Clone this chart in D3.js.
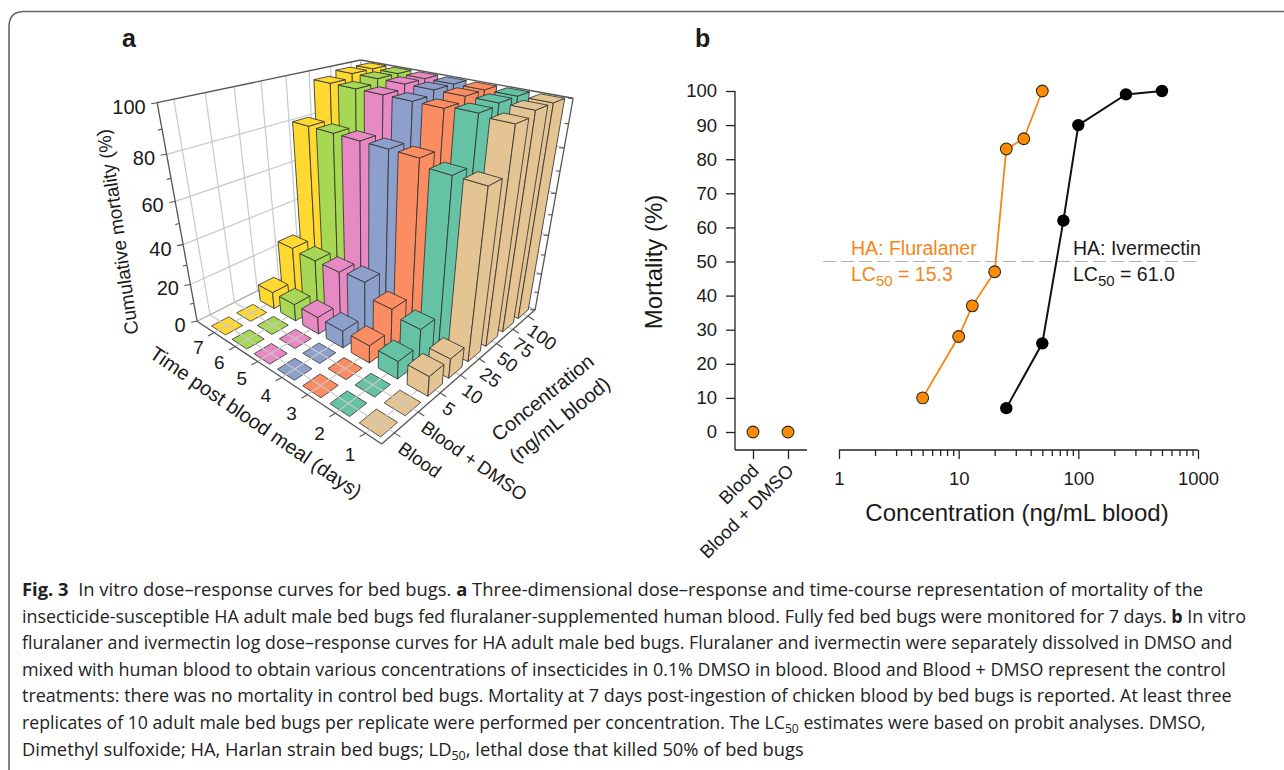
<!DOCTYPE html>
<html><head><meta charset="utf-8">
<script src="https://cdn.jsdelivr.net/npm/d3@7"></script>
<style>html,body{margin:0;padding:0;background:#fff}svg{display:block}text{font-family:"Liberation Sans",Arial,sans-serif;fill:#1a1a1a}</style>
</head><body><svg id="c" width="1284" height="770"></svg>
<script>
// ---------- data, panel a ----------
const days = [1,2,3,4,5,6,7];
const concLabels = ["Blood","Blood + DMSO","5","10","25","50","75","100"];
const mortalityDay1 = [0,0,10,10,79,98,100,100];
const mortalityDay2 = [0,0,9,17,79,99,100,100];
const mortalityDay3 = [0,0,9,20,82,98,100,100];
const mortalityDay4 = [0,0,9,27,82,98,100,100];
const mortalityDay5 = [0,0,9,26,82,98,100,100];
const mortalityDay6 = [0,0,9,26,82,98,100,100];
const mortalityDay7 = [0,0,9,27,82,98,100,100];
const mortalityByDay = [mortalityDay1,mortalityDay2,mortalityDay3,mortalityDay4,mortalityDay5,mortalityDay6,mortalityDay7];
const dayColors = ["#e5c494","#66c2a5","#fc8d62","#8da0cb","#e78ac3","#a6d854","#ffd92f"];
const zTicks = [0,20,40,60,80,100];
const zMinorTicks = [10,30,50,70,90];
// ---------- data, panel b ----------
const fluralanerDose = [5,10,13,20,25,35,50];
const fluralanerMortality = [10,28,37,47,83,86,100];
const ivermectinDose = [25,50,75,100,250,500];
const ivermectinMortality = [7,26,62,90,99,100];
const controlLabels = ["Blood","Blood + DMSO"];
const controlMortality = [0,0];
const yTicks = [0,10,20,30,40,50,60,70,80,90,100];
const xTicks = [1,10,100,1000];
const xMinorTicks = [2,3,4,5,6,7,8,9,20,30,40,50,60,70,80,90,200,300,400,500,600,700,800,900];
const captionLines = [
 [["Fig. 3","b"],["  In vitro dose–response curves for bed bugs. "],["a","b"],[" Three-dimensional dose–response and time-course representation of mortality of the"]],
 [["insecticide-susceptible HA adult male bed bugs fed fluralaner-supplemented human blood. Fully fed bed bugs were monitored for 7 days. "],["b","b"],[" In vitro"]],
 [["fluralaner and ivermectin log dose–response curves for HA adult male bed bugs. Fluralaner and ivermectin were separately dissolved in DMSO and"]],
 [["mixed with human blood to obtain various concentrations of insecticides in 0.1% DMSO in blood. Blood and Blood + DMSO represent the control"]],
 [["treatments: there was no mortality in control bed bugs. Mortality at 7 days post-ingestion of chicken blood by bed bugs is reported. At least three"]],
 [["replicates of 10 adult male bed bugs per replicate were performed per concentration. The LC"],["50","s"],[" estimates were based on probit analyses. DMSO,"]],
 [["Dimethyl sulfoxide; HA, Harlan strain bed bugs; LD"],["50","s"],[", lethal dose that killed 50% of bed bugs"]]
];
const captionEnds = [1204,1247,1233,1226,1232,1206,804];

const svg = d3.select("#c");
svg.append("path").attr("d","M1284,11.5H24Q9,11.5 9,27V770").attr("fill","none").attr("stroke","#666").attr("stroke-width",1.6);

// ---------- camera: solve a projective map from six box corners ----------
const cameraFit = [
 [0,0,0,382,444],[1,0,0,197,321],[0,1,0,535,310],
 [1,0,1,157,103],[0,1,1,573,98],[1,1,1,361,60]];
function solveCamera(fit){
  const rows=[],rhs=[];
  fit.forEach(([u,v,w,X,Y])=>{
    rows.push([1,u,v,w,0,0,0,0,-X*u,-X*v,-X*w]);rhs.push(X);
    rows.push([0,0,0,0,1,u,v,w,-Y*u,-Y*v,-Y*w]);rhs.push(Y);
  });
  const n=11,A=d3.range(n).map(i=>d3.range(n+1).map(j=>{
    let s=0;rows.forEach((r,k)=>{s+=r[i]*(j<n?r[j]:rhs[k]);});return s;}));
  for(let i=0;i<n;i++){
    let p=i;for(let k=i+1;k<n;k++)if(Math.abs(A[k][i])>Math.abs(A[p][i]))p=k;
    [A[i],A[p]]=[A[p],A[i]];
    for(let k=0;k<n;k++)if(k!==i){const f=A[k][i]/A[i][i];for(let j=i;j<=n;j++)A[k][j]-=f*A[i][j];}
  }
  return A.map((r,i)=>r[n]/r[i]);
}
const M=solveCamera(cameraFit);
const proj=(u,v,w)=>{const d=1+M[8]*u+M[9]*v+M[10]*w;
  return [(M[0]+M[1]*u+M[2]*v+M[3]*w)/d,(M[4]+M[5]*u+M[6]*v+M[7]*w)/d];};
const uS=d3.scaleBand().domain(days).range([0,0.95]);
const vS=d3.scaleBand().domain(concLabels).range([0,1]);
const wS=d3.scaleLinear().domain([0,100]).range([0,1]);
const uC=d=>uS(d)+uS.bandwidth()/2, vC=c=>vS(c)+vS.bandwidth()/2;
const line3=d3.line();
const A=svg.append("g");
const seg=(g,a,b,col,sw)=>g.append("path").attr("d",line3([proj(...a),proj(...b)])).attr("stroke",col).attr("stroke-width",sw).attr("fill","none");
const GRID="#c9c9c9",EDGE="#555";

zTicks.slice(1,5).forEach(t=>{const w=wS(t);
  seg(A,[1,0,w],[1,1,w],GRID,1.2);seg(A,[1,1,w],[0,1,w],GRID,1.2);});
concLabels.forEach(c=>seg(A,[1,vC(c),0],[1,vC(c),1],GRID,1.2));
days.forEach(d=>seg(A,[uC(d),1,0],[uC(d),1,1],GRID,1.2));
seg(A,[1,1,0],[1,1,1],"#aaa",1.2);
seg(A,[1,0,0],[1,1,0],"#aaa",1.2);seg(A,[0,1,0],[1,1,0],"#aaa",1.2);

const FILL=0.68;
const barsAll=[];
days.forEach((d,i)=>concLabels.forEach((c,j)=>barsAll.push({d,c,val:mortalityByDay[i][j],col:dayColors[i]})));
const uw=uS.bandwidth()*FILL, vw=vS.bandwidth()*FILL;
const poly=pts=>line3(pts.map(p=>proj(...p)))+"Z";
const flat=barsAll.filter(b=>b.val===0), tall=barsAll.filter(b=>b.val>0);
const stroke="#333";
flat.forEach(b=>{const u0=uC(b.d)-uw/2,v0=vC(b.c)-vw/2;
  A.append("path").attr("d",poly([[u0,v0,0],[u0+uw,v0,0],[u0+uw,v0+vw,0],[u0,v0+vw,0]])).attr("fill",b.col).attr("stroke",stroke).attr("stroke-width",.8);});
days.forEach(d=>seg(A,[uC(d),0,0],[uC(d),1,0],GRID,1.2));
concLabels.forEach(c=>seg(A,[0,vC(c),0],[1,vC(c),0],GRID,1.2));
seg(A,[0,0,0],[1,0,0],EDGE,1.3);seg(A,[0,0,0],[0,1,0],EDGE,1.3);
seg(A,[1,0,0],[1,0,1],EDGE,1.3);seg(A,[0,1,0],[0,1,1],EDGE,1.3);
seg(A,[1,0,1],[1,1,1],EDGE,1.3);seg(A,[1,1,1],[0,1,1],EDGE,1.3);

tall.sort((a,b)=>d3.descending(uC(a.d),uC(b.d))||d3.descending(vC(a.c),vC(b.c)));
tall.forEach(b=>{const u0=uC(b.d)-uw/2,v0=vC(b.c)-vw/2,w=wS(b.val),u1=u0+uw,v1=v0+vw;
  [[[u0,v0,0],[u1,v0,0],[u1,v0,w],[u0,v0,w]],
   [[u0,v0,0],[u0,v1,0],[u0,v1,w],[u0,v0,w]],
   [[u0,v0,w],[u1,v0,w],[u1,v1,w],[u0,v1,w]]].forEach(f=>
    A.append("path").attr("d",poly(f)).attr("fill",b.col).attr("stroke",stroke).attr("stroke-width",.85).attr("stroke-linejoin","round"));
});

const tickTo=(from,dx,dy,sw)=>{const p=proj(...from);A.append("path").attr("d",line3([p,[p[0]+dx,p[1]+dy]])).attr("stroke",EDGE).attr("stroke-width",sw||1.1);};
zTicks.forEach(t=>{tickTo([1,0,wS(t)],-6,1);
  const p=proj(1,0,wS(t));
  A.append("text").attr("x",p[0]-11.5).attr("y",p[1]+11).attr("text-anchor","end").attr("font-size",20).text(t);
  tickTo([0,1,wS(t)],-5,0);});
zMinorTicks.forEach(t=>{tickTo([1,0,wS(t)],-4,1);tickTo([0,1,wS(t)],-4,0);});
days.forEach(d=>{tickTo([uC(d),0,0],-6,3.5);
  const p=proj(uC(d),-0.1,0);
  A.append("text").attr("x",p[0]+6).attr("y",p[1]+10).attr("text-anchor","middle").attr("font-size",19).text(d);});
concLabels.forEach(c=>{tickTo([0,vC(c),0],6,4);
  const p=proj(-0.06,vC(c)*0.97,0);
  A.append("text").attr("transform",`translate(${p[0]-12},${p[1]+9}) rotate(35)`).attr("font-size",18.5).text(c);});
A.append("text").attr("transform","translate(252,428) rotate(34.5)").attr("text-anchor","middle").attr("font-size",20).text("Time post blood meal (days)");
A.append("text").attr("transform","translate(547,403) rotate(-39)").attr("text-anchor","middle").attr("font-size",20).text("Concentration");
A.append("text").attr("transform","translate(564,425) rotate(-39)").attr("text-anchor","middle").attr("font-size",20).text("(ng/mL blood)");
A.append("text").attr("transform","translate(124,231) rotate(-98)").attr("text-anchor","middle").attr("font-size",19).text("Cumulative mortality (%)");
svg.append("text").attr("x",122).attr("y",47).attr("font-size",25).attr("font-weight","bold").text("a");
svg.append("text").attr("x",695).attr("y",47).attr("font-size",25).attr("font-weight","bold").text("b");

// ---------- panel b ----------
const B=svg.append("g");
const y=d3.scaleLinear().domain([0,100]).range([432,91]);
const xC=d3.scalePoint().domain(controlLabels).range([753,788]);
const xL=d3.scaleLog().domain([1,1000]).range([839,1198]);
const AXB=450, AXL=735;
const styleAx=g=>{g.selectAll("path,line").attr("stroke","#222").attr("stroke-width",1.3);g.selectAll("text").attr("fill","#1a1a1a").attr("font-family","Liberation Sans").attr("font-size",18.5);};
B.append("g").attr("transform",`translate(${AXL},0)`).call(d3.axisLeft(y).tickValues(yTicks).tickSizeOuter(0).tickSize(9).tickPadding(9)).call(styleAx)
 .call(g=>g.select(".domain").attr("d",`M0,${AXB}V91`));
B.append("g").attr("transform",`translate(0,${AXB})`).call(d3.axisBottom(xC).tickSize(9).tickFormat("")).call(styleAx)
 .call(g=>g.select(".domain").attr("d",`M${AXL},0H807`));
B.append("g").attr("transform",`translate(0,${AXB})`).call(d3.axisBottom(xL).tickValues(xTicks).tickFormat(d3.format("d")).tickSize(9).tickPadding(13).tickSizeOuter(0)).call(styleAx)
 .call(g=>g.select(".domain").attr("d","M839,0H1198"));
B.append("g").attr("transform",`translate(0,${AXB})`).call(d3.axisBottom(xL).tickValues(xMinorTicks).tickFormat("").tickSize(6).tickSizeOuter(0)).call(styleAx)
 .call(g=>g.select(".domain").remove());
controlLabels.forEach(c=>B.append("text").attr("transform",`translate(${xC(c)+7},472) rotate(-45)`).attr("text-anchor","end").attr("font-size",18.5).text(c));
B.append("text").attr("transform","translate(662,262) rotate(-90)").attr("text-anchor","middle").attr("font-size",24).text("Mortality (%)");
B.append("text").attr("x",1017).attr("y",521).attr("text-anchor","middle").attr("font-size",24).text("Concentration (ng/mL blood)");
B.append("path").attr("d",line3([[823,y(50)],[1197,y(50)]])).attr("stroke","#b0b0b0").attr("stroke-width",1.2).attr("stroke-dasharray","13,5");
const ORANGE="#f58518";
const pathL=d3.line().x(d=>xL(d[0])).y(d=>y(d[1]));
const iv=d3.zip(ivermectinDose,ivermectinMortality), fl=d3.zip(fluralanerDose,fluralanerMortality);
B.append("path").attr("d",pathL(iv)).attr("fill","none").attr("stroke","#111").attr("stroke-width",2);
iv.forEach(d=>B.append("circle").attr("cx",xL(d[0])).attr("cy",y(d[1])).attr("r",6.2).attr("fill","#000"));
B.append("path").attr("d",pathL(fl)).attr("fill","none").attr("stroke",ORANGE).attr("stroke-width",1.8);
const dot=(cx,cy)=>B.append("circle").attr("cx",cx).attr("cy",cy).attr("r",5.9).attr("fill","#ff8c00").attr("stroke","#2a2a2a").attr("stroke-width",1.1);
fl.forEach(d=>dot(xL(d[0]),y(d[1])));
controlLabels.forEach((c,i)=>dot(xC(c),y(controlMortality[i])));
const label=(x0,col,t1,t2)=>{
  B.append("text").attr("x",x0).attr("y",255).attr("font-size",19.5).style("fill",col).text(t1);
  const t=B.append("text").attr("x",x0).attr("y",281).attr("font-size",19.5).style("fill",col);
  t.append("tspan").text("LC");t.append("tspan").attr("font-size",15).attr("dy",5).text("50");t.append("tspan").attr("dy",-5).text(t2);};
label(851,ORANGE,"HA: Fluralaner"," = 15.3");
label(1073,"#1a1a1a","HA: Ivermectin"," = 61.0");

// ---------- caption ----------
const CAP=svg.append("g");
captionLines.forEach((ln,i)=>{
  const t=CAP.append("text").attr("font-size",17.5).attr("xml:space","preserve").style("white-space","pre")
    .style("font-family","'Open Sans'").style("fill","#222");
  ln.forEach(([s,k])=>{const sp=t.append("tspan").text(s);
    if(k==="b")sp.attr("font-weight","bold");
    if(k==="s")sp.attr("font-size",12).attr("dy",4);
  });
  t.selectAll("tspan").each(function(_,j,n){const prev=n[j-1];if(prev&&prev.getAttribute("font-size")==="12")d3.select(this).attr("dy",-4);});
  const len=t.node().getComputedTextLength();
  const sx=(captionEnds[i]-22)/len;
  t.attr("transform",`translate(22,${596+i*26.6}) scale(${sx},1)`);
});
</script></body></html>
